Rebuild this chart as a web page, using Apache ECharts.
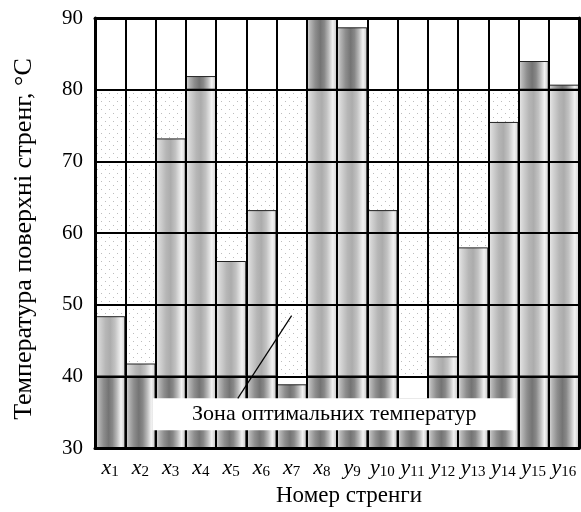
<!DOCTYPE html>
<html><head><meta charset="utf-8">
<script src="https://cdn.jsdelivr.net/npm/echarts@6/dist/echarts.min.js"></script>
<style>html,body{margin:0;padding:0;background:#fff}#c{width:581px;height:512px}</style>
</head><body><div id="c"></div>
<script>
const categories = ['x1','x2','x3','x4','x5','x6','x7','x8','y9','y10','y11','y12','y13','y14','y15','y16'];
const temperatures = [48.4, 41.8, 73.2, 81.9, 56.1, 63.2, 38.9, 90, 88.7, 63.2, 36.9, 42.8, 58.0, 75.5, 84.0, 80.7];
const yMin = 30, yMax = 90, yStep = 10;
const zoneLow = 40, zoneHigh = 80;
const yAxisTitle = 'Температура поверхні стренг, °C';
const xAxisTitle = 'Номер стренги';
const zoneLabel = 'Зона оптимальних температур';

const lowPart = temperatures.map(v => Math.min(v, zoneLow));
const midPart = temperatures.map(v => v > zoneLow ? +(Math.min(v, zoneHigh) - zoneLow).toFixed(2) : '-');
const highPart = temperatures.map(v => v > zoneHigh ? +(v - zoneHigh).toFixed(2) : '-');

const FONT = '"Liberation Serif", "Times New Roman", serif';

function grad(stops) {
  return {type:'linear', x:0, y:0, x2:1, y2:0, colorStops: stops.map(s => ({offset:s[0], color:s[1]}))};
}
const strongStripe = grad([[0,'#dcdcdc'],[0.12,'#b4b4b4'],[0.28,'#8e8e8e'],[0.45,'#747474'],[0.58,'#888888'],[0.72,'#b8b8b8'],[0.86,'#f2f2f2'],[1,'#c4c4c4']]);
const lightStripe = grad([[0,'#eaeaea'],[0.15,'#d2d2d2'],[0.35,'#b6b6b6'],[0.5,'#acacac'],[0.66,'#c2c2c2'],[0.86,'#f2f2f2'],[1,'#d4d4d4']]);

const pc = document.createElement('canvas');
pc.width = 8; pc.height = 8;
const px = pc.getContext('2d');
px.fillStyle = '#ffffff'; px.fillRect(0,0,8,8);
px.fillStyle = '#bdbdbd'; px.fillRect(1,1,1,1); px.fillRect(5,5,1,1);
const zonePattern = {image: pc, repeat: 'repeat'};

const chart = echarts.init(document.getElementById('c'), null, {renderer:'canvas'});
const frameLine = {show:true, lineStyle:{color:'#000', width:3}};

chart.setOption({
  animation:false,
  backgroundColor:'#fff',
  grid:{left:95, right:2, top:18, bottom:62, containLabel:false},
  xAxis:[
    {type:'category', data:categories, position:'bottom', boundaryGap:true, z:10,
     axisLine:frameLine, axisTick:{show:false},
     axisLabel:{margin:9, interval:0, fontFamily:FONT, color:'#000',
       formatter: v => '{i|' + v.charAt(0) + '}{s|' + v.slice(1) + '}',
       rich:{i:{fontFamily:FONT, fontStyle:'italic', fontSize:22, color:'#000'},
             s:{fontFamily:FONT, fontSize:15, color:'#000', verticalAlign:'bottom', padding:[6,0,0,0]}}},
     splitLine:{show:true, interval:0, lineStyle:{color:'#000', width:2}},
     name:xAxisTitle, nameLocation:'middle', nameGap:35,
     nameTextStyle:{fontFamily:FONT, fontSize:23, color:'#000', padding:[0,0,0,24]}},
    {type:'category', data:categories, position:'top', z:10,
     axisLine:frameLine, axisTick:{show:false}, axisLabel:{show:false}, splitLine:{show:false}},
    {type:'value', min:0, max:categories.length, show:false}
  ],
  yAxis:[
    {type:'value', min:yMin, max:yMax, interval:yStep, position:'left', z:10,
     axisLine:frameLine, axisTick:{show:false},
     axisLabel:{margin:12, fontFamily:FONT, fontSize:21, color:'#000'},
     splitLine:{show:true, lineStyle:{color:'#000', width:2}},
     name:yAxisTitle, nameLocation:'middle', nameRotate:90, nameGap:58,
     nameTextStyle:{fontFamily:FONT, fontSize:26, color:'#000', padding:[0,12,0,0]}},
    {type:'value', min:yMin, max:yMax, interval:yStep, position:'right', z:10,
     axisLine:frameLine, axisTick:{show:false}, axisLabel:{show:false}, splitLine:{show:false}},
    {type:'value', min:yMin, max:yMax, interval:yStep, position:'left', z:0,
     axisLine:{show:false}, axisTick:{show:false}, axisLabel:{show:false}, splitLine:{show:false},
     splitArea:{show:true, areaStyle:{color:['#ffffff', zonePattern, zonePattern, zonePattern, zonePattern, '#ffffff']}}}
  ],
  series:[
    {type:'bar', stack:'t', data:lowPart, barCategoryGap:'0%', z:2,
     itemStyle:{color:strongStripe, borderColor:'#222', borderWidth:1}},
    {type:'bar', stack:'t', data:midPart, barCategoryGap:'0%', z:2,
     itemStyle:{color:lightStripe, borderColor:'#222', borderWidth:1}},
    {type:'bar', stack:'t', data:highPart, barCategoryGap:'0%', z:2,
     itemStyle:{color:strongStripe, borderColor:'#222', borderWidth:1}},
    {type:'scatter', xAxisIndex:2, yAxisIndex:0, data:[], z:20, silent:true,
     markArea:{silent:true, z:20,
       itemStyle:{color:'#ffffff', borderWidth:0},
       label:{show:true, position:'inside', formatter:zoneLabel, fontFamily:FONT, fontSize:22, color:'#000'},
       data:[[{coord:[1.91, 36.94]}, {coord:[13.91, 32.5]}]]},
     markLine:{silent:true, z:21, symbol:['none','none'],
       lineStyle:{color:'#000', width:1.2, type:'solid'}, label:{show:false},
       data:[[{coord:[4.72, 36.94]}, {coord:[6.5, 48.47]}]]}}
  ]
});
</script></body></html>
